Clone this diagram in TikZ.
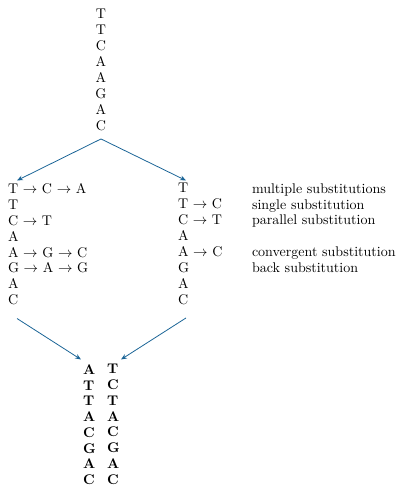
\documentclass[tikz,border=0pt]{standalone}
\usetikzlibrary{arrows.meta,calc}
\definecolor{arrblue}{RGB}{26,100,150}
\begin{document}
\begin{tikzpicture}[x=0.7557pt,y=-0.7557pt,
  col/.style={inner sep=0pt, outer sep=0pt, align=left, anchor=north west, font=\fontsize{10.6}{12}\selectfont},
  bcol/.style={col, font=\fontsize{10.6}{11.9}\selectfont\bfseries},
  arr/.style={draw=arrblue, line width=0.6pt, -{Stealth[length=4.5pt,width=3.6pt]}}]
\useasboundingbox (0,0) rectangle (397,487);
\node[col, anchor=north, align=center] (top) at (101,9.5) {T\\T\\C\\A\\A\\G\\A\\C};
\node[col] (L) at (8,183.5) {T $\rightarrow$ C $\rightarrow$ A\\T\\C $\rightarrow$ T\\A\\A $\rightarrow$ G $\rightarrow$ C\\G $\rightarrow$ A $\rightarrow$ G\\A\\C};
\node[col] (R) at (178,183.5) {T\\T $\rightarrow$ C\\C $\rightarrow$ T\\A\\A $\rightarrow$ C\\G\\A\\C};
\node[col] (lab) at (252,183.5) {multiple substitutions\\single substitution\\parallel substitution\\\mbox{}\\convergent substitution\\back substitution};
\node[bcol] (B1) at (83,364.5) {A\\T\\T\\A\\C\\G\\A\\C};
\node[bcol] (B2) at (107,364.5) {T\\C\\T\\A\\C\\G\\A\\C};
\draw[arr] ($(top.south)+(0,8.5)$) -- ($(L.north west)+(9,-3)$);
\draw[arr] ($(top.south)+(0,8.5)$) -- ($(R.north west)+(8,-3)$);
\draw[arr] ($(L.south west)+(9,13.5)$) -- ($(B1.north west)+(-2,-5)$);
\draw[arr] ($(R.south west)+(8,13.5)$) -- ($(B2.north west)+(14,-5)$);
\end{tikzpicture}
\end{document}
